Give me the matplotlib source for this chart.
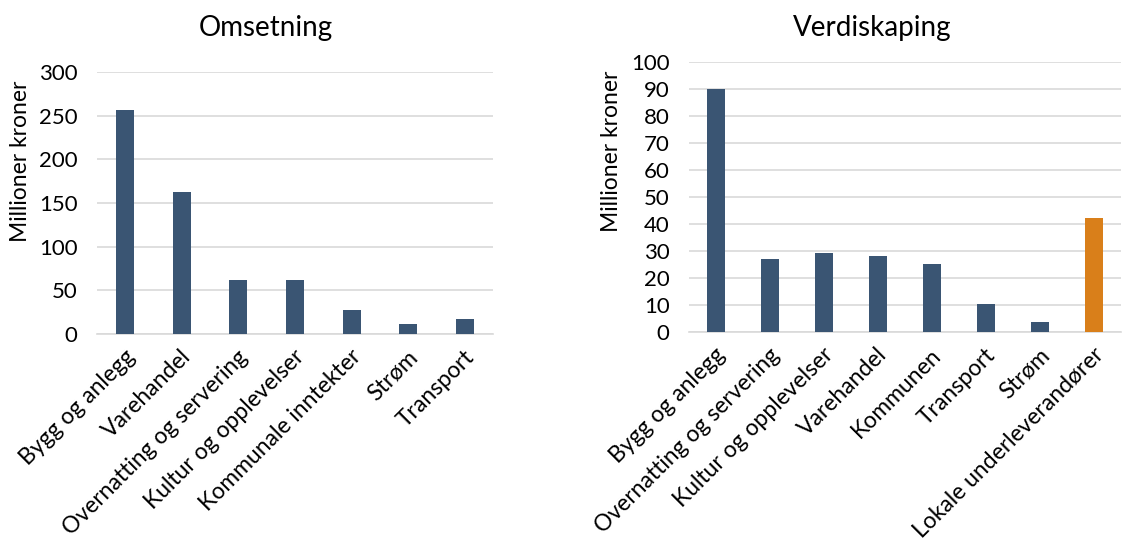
import matplotlib
matplotlib.use("Agg")
import matplotlib.pyplot as plt
import matplotlib.transforms as mtransforms

# Data
omsetning_kategorier = ["Bygg og anlegg", "Varehandel", "Overnatting og servering",
                        "Kultur og opplevelser", "Kommunale inntekter", "Strøm", "Transport"]
omsetning_verdier = [256, 163, 61.5, 61.5, 27.5, 12, 17]

verdi_kategorier = ["Bygg og anlegg", "Overnatting og servering", "Kultur og opplevelser",
                    "Varehandel", "Kommunen", "Transport", "Strøm", "Lokale underleverandører"]
verdi_verdier = [90, 27.2, 29.3, 28.2, 25.2, 10.3, 3.6, 42.3]

BLA = "#3A5573"
ORANSJE = "#D97F1A"
GRID = "#D9D9D9"

plt.rcParams['font.family'] = ['Lato', 'DejaVu Sans']

W, H = 1146, 547
fig = plt.figure(figsize=(W / 100, H / 100), dpi=100)


def lag_akse(rect, kategorier, verdier, farger, ymax, steg):
    ax = fig.add_axes(rect)
    x = list(range(len(kategorier)))
    ax.bar(x, verdier, width=0.32, color=farger, zorder=3)
    ax.set_xlim(-0.5, len(kategorier) - 0.5)
    ax.set_ylim(0, ymax)
    ax.set_yticks(list(range(0, ymax + 1, steg)))
    ax.grid(axis='y', color=GRID, linewidth=1.2, zorder=0)
    for s in ['top', 'right', 'left']:
        ax.spines[s].set_visible(False)
    ax.spines['bottom'].set_color(GRID)
    ax.spines['bottom'].set_linewidth(1.2)
    ax.tick_params(axis='y', length=0, pad=14, labelsize=16, colors='black')
    ax.tick_params(axis='x', length=0, pad=14)
    ax.set_xticks(x)
    ax.set_xticklabels(kategorier, rotation=45, ha='right', va='center',
                       rotation_mode='anchor', fontsize=16.5)
    # flytt etikettene litt til hoyre, som i Excel
    forskyv = mtransforms.ScaledTranslation(6 / 100, 0, fig.dpi_scale_trans)
    for lbl in ax.get_xticklabels():
        lbl.set_transform(lbl.get_transform() + forskyv)
    return ax


ax1 = lag_akse([97 / W, 1 - 334 / H, 396 / W, 262 / H],
               omsetning_kategorier, omsetning_verdier, BLA, 300, 50)
ax2 = lag_akse([689 / W, 1 - 332 / H, 432 / W, 270 / H],
               verdi_kategorier, verdi_verdier,
               [BLA] * 7 + [ORANSJE], 100, 10)

fig.text(266 / W, 1 - 28 / H, "Omsetning", ha='center', va='center', fontsize=20)
fig.text(872 / W, 1 - 28 / H, "Verdiskaping", ha='center', va='center', fontsize=20)
fig.text(21 / W, 1 - 161 / H, "Millioner kroner", ha='center', va='center',
         rotation=90, fontsize=16.5)
fig.text(612 / W, 1 - 151 / H, "Millioner kroner", ha='center', va='center',
         rotation=90, fontsize=16.5)

fig.savefig("out.png", dpi=100)
